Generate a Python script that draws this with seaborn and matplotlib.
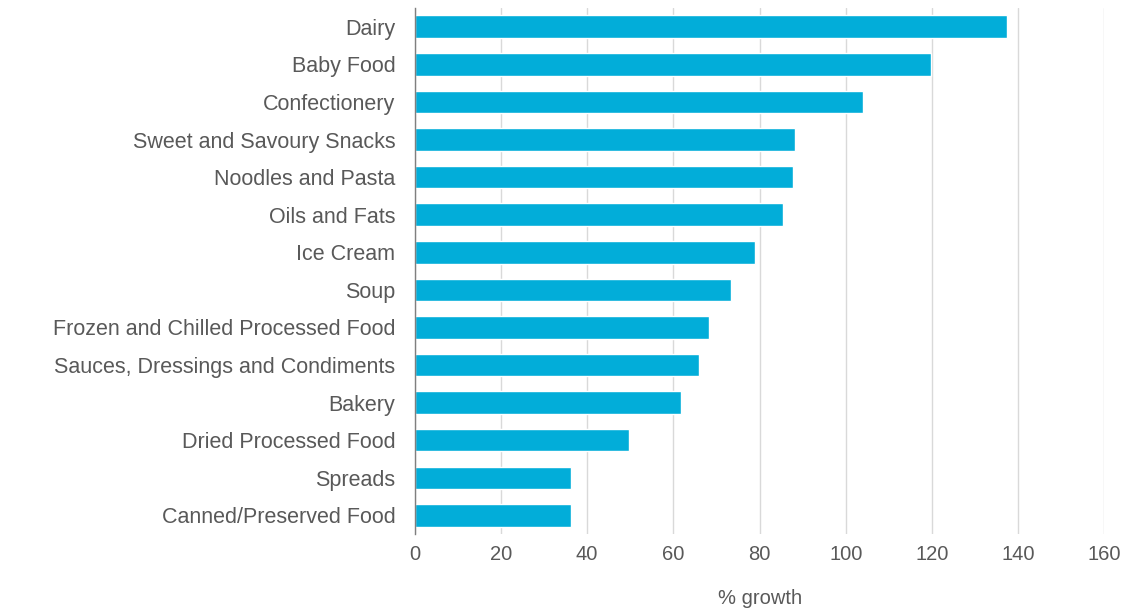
import matplotlib
matplotlib.use("Agg")
import matplotlib.pyplot as plt
import seaborn as sns
import pandas as pd

categories = ["Dairy", "Baby Food", "Confectionery", "Sweet and Savoury Snacks",
              "Noodles and Pasta", "Oils and Fats", "Ice Cream", "Soup",
              "Frozen and Chilled Processed Food", "Sauces, Dressings and Condiments",
              "Bakery", "Dried Processed Food", "Spreads", "Canned/Preserved Food"]
growth = [137.5, 119.8, 104.1, 88.2, 87.8, 85.5, 79.0, 73.4, 68.3, 66.0,
          61.8, 49.8, 36.3, 36.3]
xticks = [0, 20, 40, 60, 80, 100, 120, 140, 160]

df = pd.DataFrame({"category": categories, "growth": growth})

sns.set_theme(style="white")
plt.rcParams['font.family'] = ['Liberation Sans', 'DejaVu Sans']

fig = plt.figure(figsize=(11.27, 6.14), dpi=100)
ax = fig.add_axes([0.368, 0.130, 0.612, 0.857])

sns.barplot(data=df, x="growth", y="category", orient="h", color="#02ADD9",
            saturation=1, width=0.6, ax=ax, zorder=3)

ax.set_xlim(0, 160)
ax.set_xticks(xticks)
ax.set_xticklabels([str(t) for t in xticks])
ax.xaxis.grid(True, color="#D9D9D9", linewidth=1.0, zorder=0)
ax.yaxis.grid(False)
ax.set_axisbelow(True)
for s in ["top", "right", "bottom"]:
    ax.spines[s].set_visible(False)
ax.spines["left"].set_color("#7F7F7F")
ax.spines["left"].set_linewidth(1.0)
ax.spines["left"].set_zorder(4)
ax.tick_params(axis="both", length=0, colors="#595959")
ax.tick_params(axis="y", pad=14, labelsize=15.5)
ax.tick_params(axis="x", pad=8, labelsize=14.5)
ax.set_ylabel("")
ax.set_xlabel("% growth", fontsize=14.5, color="#595959", labelpad=18)

fig.savefig("out.png", dpi=100)
